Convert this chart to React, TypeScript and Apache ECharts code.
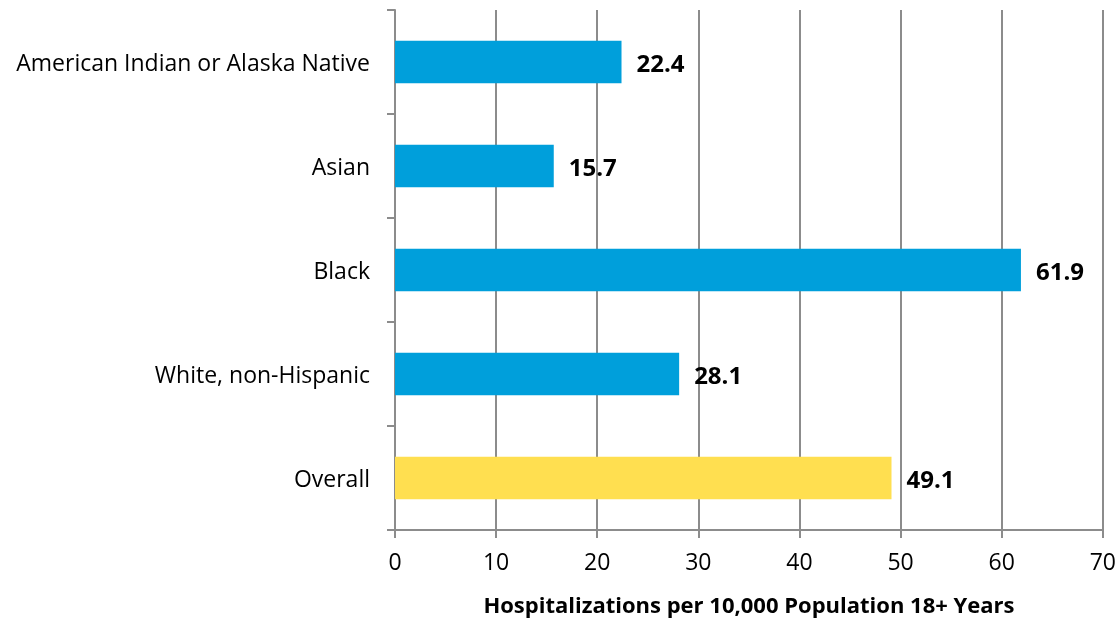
import React, { useEffect, useRef } from "react";
import * as echarts from "echarts";

const categories = [
  "American Indian or Alaska Native",
  "Asian",
  "Black",
  "White, non-Hispanic",
  "Overall",
];
const values = [22.4, 15.7, 61.9, 28.1, 49.1];
const barColors = ["#009FDB", "#009FDB", "#009FDB", "#009FDB", "#FFDF50"];
const xTicks = [0, 10, 20, 30, 40, 50, 60, 70];
const axisTitle = "Hospitalizations per 10,000 Population 18+ Years";

export default function App() {
  const ref = useRef<HTMLDivElement>(null);
  useEffect(() => {
    document.body.style.margin = "0";
    document.body.style.overflow = "hidden";
    if (!ref.current) return;
    const chart = echarts.init(ref.current, undefined, { renderer: "svg" });
    const font = "'Open Sans', sans-serif";
    chart.setOption({
      animation: false,
      grid: { left: 395, right: 16, top: 10, bottom: 90, containLabel: false },
      xAxis: {
        type: "value",
        min: xTicks[0],
        max: xTicks[xTicks.length - 1],
        interval: 10,
        name: axisTitle,
        nameLocation: "middle",
        nameGap: 63,
        nameTextStyle: { fontFamily: font, fontSize: 22, fontWeight: "bold", color: "#000" },
        axisLine: { show: true, lineStyle: { color: "#8c8c8c", width: 2 } },
        axisTick: { show: true, length: 8, lineStyle: { color: "#8c8c8c", width: 2 } },
        axisLabel: { fontFamily: font, fontSize: 23, color: "#000", margin: 19 },
        splitLine: { show: true, lineStyle: { color: "#8c8c8c", width: 2 } },
      },
      yAxis: {
        type: "category",
        data: categories,
        inverse: true,
        axisLine: { show: true, lineStyle: { color: "#8c8c8c", width: 2 } },
        axisTick: { show: true, length: 8, lineStyle: { color: "#8c8c8c", width: 2 } },
        axisLabel: { fontFamily: font, fontSize: 23, color: "#000", margin: 25 },
      },
      series: [
        {
          type: "bar",
          data: values.map((v, i) => ({ value: v, itemStyle: { color: barColors[i] } })),
          barWidth: "41%",
          label: {
            show: true,
            position: "right",
            distance: 15,
            fontFamily: font,
            fontSize: 24,
            fontWeight: "bold",
            color: "#000",
            formatter: (p: any) => p.value.toFixed(1),
          },
        },
      ],
    });
    return () => chart.dispose();
  }, []);
  return (
    <div
      ref={ref}
      style={{ position: "fixed", left: 0, top: 0, width: 1119, height: 620 }}
    />
  );
}
